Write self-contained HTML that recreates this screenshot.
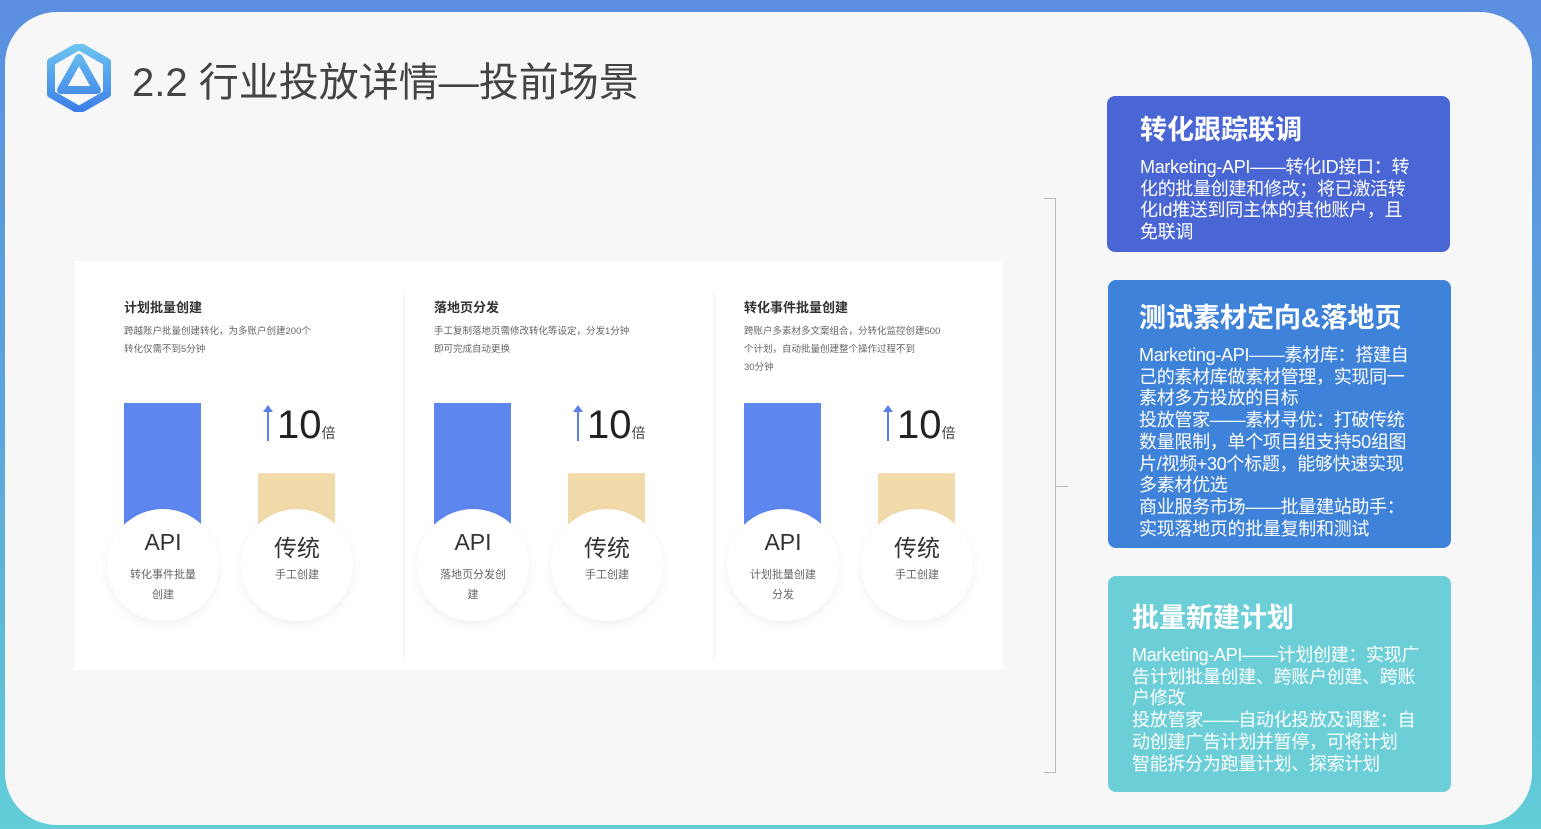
<!DOCTYPE html>
<html><head><meta charset="utf-8">
<style>
*{margin:0;padding:0;box-sizing:border-box}
body{width:1541px;height:829px;overflow:hidden;background:linear-gradient(180deg,#5b8fe0 0%,#5aa6dc 50%,#62cdd6 100%);font-family:"Liberation Sans","Noto Sans CJK SC",sans-serif;position:relative}
.card{position:absolute;left:5px;top:12px;width:1527px;height:813px;background:#f7f7f8;border-radius:52px}
.title{position:absolute;left:132px;top:50px;font-size:40px;color:#444;letter-spacing:0px}
.panel{position:absolute;left:75px;top:261px;width:928px;height:409px;background:#fff}
.sep{position:absolute;top:30px;width:1px;height:370px;background:#f0f0f0}
.h{position:absolute;top:36px;font-size:13px;font-weight:bold;color:#333}
.d{position:absolute;top:62px;font-size:9.5px;color:#666;line-height:18px;width:240px}
.circ{position:absolute;width:112px;height:112px;border-radius:50%;background:#fff;box-shadow:0 4px 10px rgba(0,0,0,.06)}
.cl{position:absolute;width:100%;text-align:center;top:20px;font-size:23px;color:#333}
.cs{position:absolute;width:100%;text-align:center;top:56px;font-size:11px;color:#666;line-height:20px;padding:0 12px}
.ten{position:absolute;top:142px;font-size:40px;color:#222;font-family:"Liberation Sans Narrow","Liberation Sans",sans-serif}
.ten small{font-size:14px;color:#444}
.arrow{position:absolute;top:150px;width:2px;height:30px;background:#5b7fe6}
.arrow:before{content:"";position:absolute;left:-4px;top:-6px;border-left:5px solid transparent;border-right:5px solid transparent;border-bottom:7px solid #5b7fe6}
.box{position:absolute;border-radius:8px;color:#fff}
.box h3{font-size:27px;font-weight:bold;margin-bottom:8px}
.box p{font-size:18px;line-height:21.7px;letter-spacing:-0.3px;white-space:nowrap}
.brk{position:absolute;left:1055px;top:198px;width:1px;height:575px;background:#bbb}
</style></head><body>
<div class="card"></div>
<svg style="position:absolute;left:47px;top:44px" width="64" height="68" viewBox="0 0 64 68">
<defs><linearGradient id="g" x1="0" y1="0" x2="0" y2="1"><stop offset="0" stop-color="#6cc3f0"/><stop offset="1" stop-color="#3d7fe8"/></linearGradient></defs>
<path d="M32 2 L60 18 L60 50 L32 66 L4 50 L4 18 Z M32 14 L14 46 L50 46 Z" fill="none" stroke="url(#g)" stroke-width="8" stroke-linejoin="round"/>
</svg>
<div class="title">2.2 行业投放详情—投前场景</div>

<div class="panel">
<svg id="bars" width="928" height="409" style="position:absolute;left:0;top:0"></svg>
</div>
<div class="brk"></div>
<div style="position:absolute;left:1044px;top:198px;width:12px;height:1px;background:#bbb"></div>
<div style="position:absolute;left:1044px;top:772px;width:12px;height:1px;background:#bbb"></div>
<div style="position:absolute;left:1056px;top:486px;width:12px;height:1px;background:#bbb"></div>

<div class="box" style="left:1107px;top:96px;width:343px;height:156px;background:#4a66d4;padding:12px 10px 0 33px">
<h3 style="margin-bottom:10px">转化跟踪联调</h3>
<p>Marketing-API——转化ID接口：转<br>化的批量创建和修改；将已激活转<br>化Id推送到同主体的其他账户，且<br>免联调</p></div>
<div class="box" style="left:1108px;top:280px;width:343px;height:268px;background:#3f82d9;padding:16px 10px 0 31px">
<h3 style="margin-bottom:10px">测试素材定向&amp;落地页</h3>
<p>Marketing-API——素材库：搭建自<br>己的素材库做素材管理，实现同一<br>素材多方投放的目标<br>投放管家——素材寻优：打破传统<br>数量限制，单个项目组支持50组图<br>片/视频+30个标题，能够快速实现<br>多素材优选<br>商业服务市场——批量建站助手：<br>实现落地页的批量复制和测试</p></div>
<div class="box" style="left:1108px;top:576px;width:343px;height:216px;background:#6ccfd8;padding:20px 10px 0 24px">
<h3 style="margin-bottom:10px">批量新建计划</h3>
<p>Marketing-API——计划创建：实现广<br>告计划批量创建、跨账户创建、跨账<br>户修改<br>投放管家——自动化投放及调整：自<br>动创建广告计划并暂停，可将计划<br>智能拆分为跑量计划、探索计划</p></div>

<script>
const titles=["计划批量创建","落地页分发","转化事件批量创建"];
const descs=["跨越账户批量创建转化，为多账户创建200个<br>转化仅需不到5分钟","手工复制落地页需修改转化等设定，分发1分钟<br>即可完成自动更换","跨账户多素材多文案组合，分转化监控创建500<br>个计划，自动批量创建整个操作过程不到<br>30分钟"];
const apiValues=[10,10,10];
const manualValues=[1,1,1];
const multiples=["10","10","10"];
const apiSubs=["转化事件批量<br>创建","落地页分发创<br>建","计划批量创建<br>分发"];
const manualSubs=["手工创建","手工创建","手工创建"];

const panel=document.querySelector('.panel');
const svg=document.getElementById('bars');
const NS="http://www.w3.org/2000/svg";
const baseY=264, colW=310, k=7.8, base=44;
function h(v){return base+v*k;}
function colX(i){return 49+i*colW;}
for(let i=0;i<titles.length;i++){
  const x=colX(i);
  if(i>0){const s=document.createElement('div');s.className='sep';s.style.left=(x-30)+'px';
  
  panel.appendChild(s);}
  const t=document.createElement('div');t.className='h';t.style.left=x+'px';t.textContent=titles[i];
  
  panel.appendChild(t);
  const d=document.createElement('div');d.className='d';d.style.left=x+'px';d.innerHTML=descs[i];
  
  panel.appendChild(d);
  const r1=document.createElementNS(NS,'rect');
  r1.setAttribute('x',x);r1.setAttribute('width',77);
  r1.setAttribute('y',baseY-h(apiValues[i]));r1.setAttribute('height',h(apiValues[i]));r1.setAttribute('fill','#5d87ee');
  
  svg.appendChild(r1);
  const r2=document.createElementNS(NS,'rect');
  r2.setAttribute('x',x+134);r2.setAttribute('width',77);
  r2.setAttribute('y',baseY-h(manualValues[i]));r2.setAttribute('height',h(manualValues[i]));r2.setAttribute('fill','#f2dbab');
  
  svg.appendChild(r2);
  const c1=document.createElement('div');c1.className='circ';c1.style.left=(x-17)+'px';c1.style.top='248px';
  c1.innerHTML='<div class="cl">API</div><div class="cs">'+apiSubs[i]+'</div>';
  
  panel.appendChild(c1);
  const c2=document.createElement('div');c2.className='circ';c2.style.left=(x+117)+'px';c2.style.top='248px';
  c2.innerHTML='<div class="cl">传统</div><div class="cs">'+manualSubs[i]+'</div>';
  
  panel.appendChild(c2);
  const a=document.createElement('div');a.className='arrow';a.style.left=(x+143)+'px';
  
  panel.appendChild(a);
  const m=document.createElement('div');m.className='ten';m.style.left=(x+153)+'px';
  m.innerHTML=multiples[i]+'<small>倍</small>';
  
  panel.appendChild(m);
}
</script>
</body></html>
